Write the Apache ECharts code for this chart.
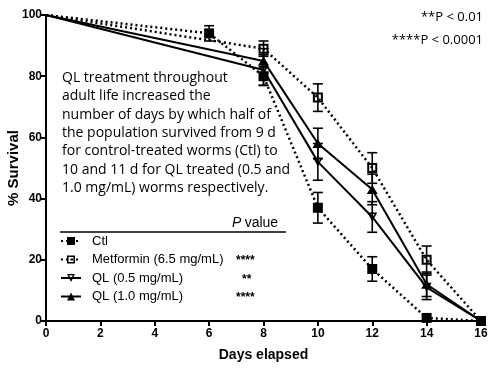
<!DOCTYPE html>
<html><head><meta charset="utf-8">
<script src="https://cdn.jsdelivr.net/npm/echarts@6/dist/echarts.min.js"></script>
<style>html,body{margin:0;padding:0;background:#fff}#c{width:490px;height:370px}</style>
</head><body><div id="c"></div>
<script>
const seriesNames = ['Ctl', 'Metformin (6.5 mg/mL)', 'QL (0.5 mg/mL)', 'QL (1.0 mg/mL)'];
const pValues = ['', '****', '**', '****'];
const ctlDays = [0, 6, 8, 10, 12, 14, 16];
const ctlSurv = [100, 94, 80, 37, 17, 1, 0];
const ctlErr  = [0, 2.5, 3, 5, 4, 0, 0];
const metDays = [0, 8, 10, 12, 14, 16];
const metSurv = [100, 89, 73, 50, 20, 0];
const metErr  = [0, 2.5, 4.5, 5, 4.5, 0];
const ql05Days = [0, 8, 10, 12, 14, 16];
const ql05Surv = [100, 82, 52, 34, 11, 0];
const ql05Err  = [0, 5, 6, 5, 4, 0];
const ql10Days = [0, 8, 10, 12, 14, 16];
const ql10Surv = [100, 85, 58, 43, 12, 0];
const ql10Err  = [0, 4, 5, 5, 4, 0];
const xTicks = [0, 2, 4, 6, 8, 10, 12, 14, 16];
const yTicks = [0, 20, 40, 60, 80, 100];
const noteText = 'QL treatment throughout\nadult life increased the\nnumber of days by which half of\nthe population survived from 9 d\nfor control-treated worms (Ctl) to\n10 and 11 d for QL treated (0.5 and\n1.0 mg/mL) worms respectively.';
const sigText = ['**P < 0.01', '****P < 0.0001'];

const symSquare = 'path://M0,0 H10 V10 H0 Z';
const symOpenSquare = 'path://M0,0 H10 V10 H0 Z M2,2 V8 H8 V2 Z M4.2,4.2 H5.8 V5.8 H4.2 Z';
const symOpenTriDown = 'path://M0,0 L10,0 L5,9 Z M2.7,1.5 L5,5.6 L7.3,1.5 Z';
const symTriUp = 'path://M5,0 L10,9 L0,9 Z';

const groups = [
  {days: ctlDays, surv: ctlSurv, err: ctlErr, sym: symSquare, type: 'dotted'},
  {days: metDays, surv: metSurv, err: metErr, sym: symOpenSquare, type: 'dotted'},
  {days: ql05Days, surv: ql05Surv, err: ql05Err, sym: symOpenTriDown, type: 'solid'},
  {days: ql10Days, surv: ql10Surv, err: ql10Err, sym: symTriUp, type: 'solid'}
];

const series = [];
groups.forEach((g, gi) => {
  const data = g.days.map((d, i) => ({value: [d, g.surv[i]], symbol: i === 0 ? 'none' : g.sym}));
  series.push({
    name: seriesNames[gi], type: 'line', data: data, symbol: g.sym, symbolSize: gi===3 ? [11,10] : 10,
    symbolKeepAspect: true, z: 3,
    lineStyle: {color: '#000', width: g.type === 'dotted' ? 2.5 : 2, type: g.type === 'dotted' ? [2, 3] : 'solid'},
    itemStyle: {color: '#000', borderWidth: 0},
    emphasis: {disabled: true}, animation: false
  });
  series.push({
    name: seriesNames[gi] + ' err', type: 'custom', z: 2, silent: true, animation: false,
    data: g.days.map((d, i) => [d, g.surv[i], g.err[i]]).filter(r => r[2] > 0),
    renderItem: function (params, api) {
      const x = api.value(0), y = api.value(1), e = api.value(2);
      const top = api.coord([x, y + e]), bot = api.coord([x, y - e]);
      const w = 5;
      const st = {stroke: '#000', lineWidth: 1.6};
      return {type: 'group', children: [
        {type: 'line', shape: {x1: top[0], y1: top[1], x2: bot[0], y2: bot[1]}, style: st},
        {type: 'line', shape: {x1: top[0]-w, y1: top[1], x2: top[0]+w, y2: top[1]}, style: st},
        {type: 'line', shape: {x1: bot[0]-w, y1: bot[1], x2: bot[0]+w, y2: bot[1]}, style: st}
      ]};
    }
  });
});

const axisFont = {fontFamily: 'Liberation Sans', fontWeight: 'bold', fontSize: 12, color: '#000'};
const chart = echarts.init(document.getElementById('c'));
chart.setOption({
  animation: false,
  grid: {left: 46, right: 9, top: 15, bottom: 49, containLabel: false, outerBoundsMode: 'none'},
  xAxis: {
    type: 'value', min: 0, max: 16, interval: 2,
    name: 'Days elapsed', nameLocation: 'middle', nameGap: 27, nameMoveOverlap: false,
    nameTextStyle: {fontFamily: 'Liberation Sans', fontWeight: 'bold', fontSize: 14, color: '#000'},
    axisLine: {lineStyle: {color: '#000', width: 2}},
    axisTick: {show: true, length: 5, lineStyle: {color: '#000', width: 2}},
    axisLabel: Object.assign({margin: 7, formatter: v => xTicks.includes(v) ? String(v) : ''}, axisFont),
    splitLine: {show: false}
  },
  yAxis: {
    type: 'value', min: 0, max: 100, interval: 20,
    name: '% Survival', nameLocation: 'middle', nameGap: 25, nameRotate: 90, nameMoveOverlap: false,
    nameTextStyle: {fontFamily: 'Liberation Sans', fontWeight: 'bold', fontSize: 15, color: '#000'},
    axisLine: {show: true, lineStyle: {color: '#000', width: 2}},
    axisTick: {show: true, length: 5, lineStyle: {color: '#000', width: 2}},
    axisLabel: Object.assign({margin: 4, formatter: v => yTicks.includes(v) ? String(v) : ''}, axisFont),
    splitLine: {show: false}
  },
  legend: {
    data: seriesNames, orient: 'vertical', left: 60, top: 234, padding: 0,
    itemWidth: 20, itemHeight: 10, itemGap: 4.5, selectedMode: false,
    textStyle: {fontFamily: 'Liberation Sans', fontSize: 13, color: '#000', lineHeight: 14, padding: [0,0,0,6]}
  },
  graphic: [
    {type: 'text', left: 62, top: 69, style: {text: noteText, fontFamily: 'Open Sans', fontSize: 14, lineHeight: 18.3, fill: '#000'}},
    {type: 'text', right: 7, top: 11, style: {text: sigText[0], fontFamily: 'Open Sans', fontSize: 13, fill: '#000', align: 'right'}},
    {type: 'text', right: 7, top: 34, style: {text: sigText[1], fontFamily: 'Open Sans', fontSize: 13, fill: '#000', align: 'right'}},
    {type: 'text', left: 232, top: 216, style: {rich: {p: {fontStyle: 'italic', fontFamily: 'Liberation Sans', fontSize: 14}, v: {fontFamily: 'Liberation Sans', fontSize: 14}}, text: '{p|P} {v|value}', fill: '#000'}},
    {type: 'line', shape: {x1: 60, y1: 232, x2: 286, y2: 232}, style: {stroke: '#000', lineWidth: 1.5}},
    {type: 'text', left: 236, top: 255, style: {text: pValues[1], fontFamily: 'Liberation Sans', fontSize: 12, fontWeight: 'bold', fill: '#000'}},
    {type: 'text', left: 242, top: 274, style: {text: pValues[2], fontFamily: 'Liberation Sans', fontSize: 12, fontWeight: 'bold', fill: '#000'}},
    {type: 'text', left: 236, top: 292, style: {text: pValues[3], fontFamily: 'Liberation Sans', fontSize: 12, fontWeight: 'bold', fill: '#000'}}
  ],
  series: series
});
</script></body></html>
